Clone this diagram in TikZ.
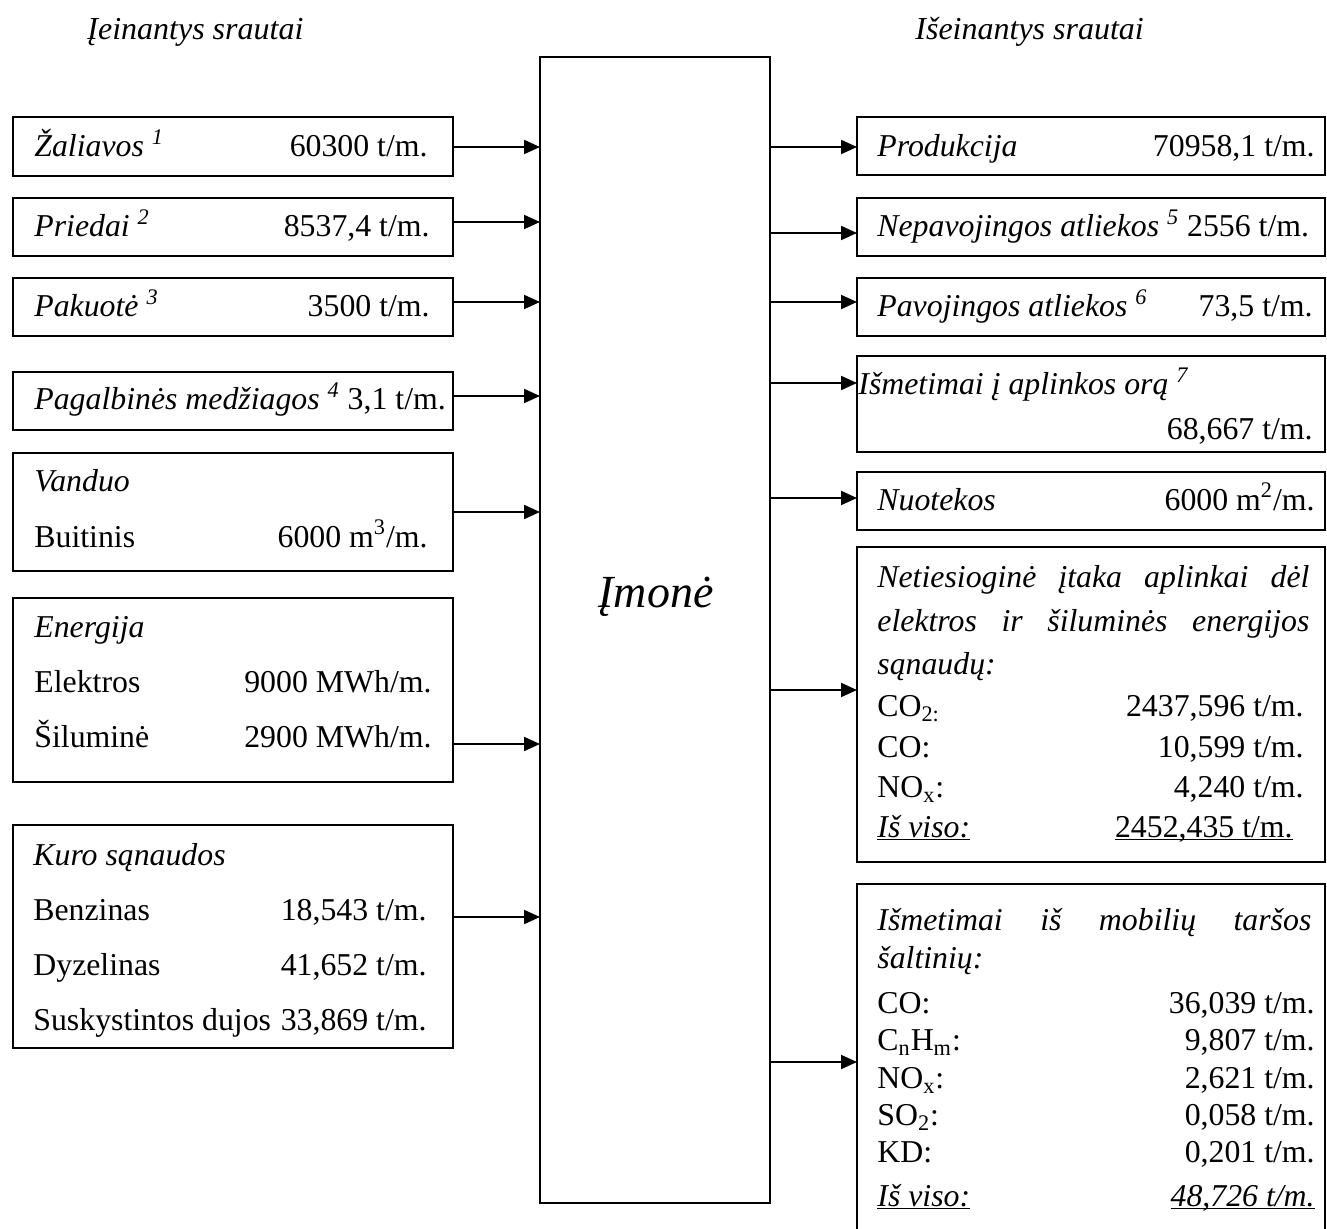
\documentclass[tikz,border=0pt]{standalone}
\usepackage{fontspec}
\setmainfont{Liberation Serif}
\usetikzlibrary{arrows.meta}
\newlength\px
\setlength\px{0.5pt}
\newcommand\ulin[1]{\underline{\smash{#1}}}
\begin{document}
\begin{tikzpicture}[x=0.5pt, y=-0.5pt,
  frame/.style={draw, line width=1pt, anchor=north west, inner sep=0pt, outer sep=0pt},
  flow/.style={line width=1pt, -{Triangle[length=8pt,width=7pt]}},
  txt/.style={inner sep=0pt, anchor=base west, font=\fontsize{15.9}{18}\selectfont},
  itxt/.style={txt, font=\fontsize{15.9}{18}\selectfont\itshape},
  num/.style={inner sep=0pt, anchor=base east, font=\fontsize{15.9}{18}\selectfont},
  head/.style={inner sep=0pt, anchor=base west, font=\fontsize{16}{19}\selectfont\itshape},
]
\useasboundingbox (0,0) rectangle (1327,1229);
\clip (0,0) rectangle (1327,1229);

% column headings
\node[head] (hin) at (87,40) {Įeinantys srautai};
\node[head] (hout) at (915,40) {Išeinantys srautai};

% the enterprise
\node[frame, minimum width=230\px, minimum height=1146\px] (imone) at (540,57) {};
\node[inner sep=0pt, anchor=base, font=\fontsize{23}{27}\selectfont\itshape] (imlbl) at (656,607) {Įmonė};

% incoming flows
\node[frame, minimum width=440\px, minimum height=59\px] (zal) at (13,117) {};
\node[frame, minimum width=440\px, minimum height=58\px] (pri) at (13,198) {};
\node[frame, minimum width=440\px, minimum height=58\px] (pak) at (13,278) {};
\node[frame, minimum width=440\px, minimum height=58\px] (pag) at (13,372) {};
\node[frame, minimum width=440\px, minimum height=118\px] (van) at (13,453) {};
\node[frame, minimum width=440\px, minimum height=184\px] (ene) at (13,598) {};
\node[frame, minimum width=440\px, minimum height=223\px] (kur) at (13,825) {};

\node[itxt] (zalt) at (34,157) {Žaliavos \textsuperscript{1}};
\node[num] (zalv) at (428,157) {60300 t/m.};
\node[itxt] (prit) at (34,237) {Priedai \textsuperscript{2}};
\node[num] (priv) at (430,237) {8537,4 t/m.};
\node[itxt] (pakt) at (34,317) {Pakuotė \textsuperscript{3}};
\node[num] (pakv) at (430,317) {3500 t/m.};
\node[txt] (pagt) at (34,410) {\itshape Pagalbinės medžiagos \textsuperscript{4}\upshape{} 3,1 t/m.};
\node[itxt] (vant) at (34,492) {Vanduo};
\node[txt] (buit) at (34,547) {Buitinis};
\node[num] (buiv) at (428,547) {6000 m\textsuperscript{3}/m.};
\node[itxt] (enet) at (34,637) {Energija};
\node[txt] (elet) at (34,692) {Elektros};
\node[num] (elev) at (432,692) {9000 MWh/m.};
\node[txt] (silt) at (34,747) {Šiluminė};
\node[num] (silv) at (432,747) {2900 MWh/m.};
\node[itxt] (kurt) at (33,865) {Kuro sąnaudos};
\node[txt] (bent) at (33,920) {Benzinas};
\node[num] (benv) at (427,920) {18,543 t/m.};
\node[txt] (dyzt) at (33,975) {Dyzelinas};
\node[num] (dyzv) at (427,975) {41,652 t/m.};
\node[txt] (sust) at (33,1030) {Suskystintos dujos};
\node[num] (susv) at (427,1030) {33,869 t/m.};

% outgoing flows
\node[frame, minimum width=468\px, minimum height=58\px] (pro) at (857,117) {};
\node[frame, minimum width=468\px, minimum height=58\px] (nep) at (857,198) {};
\node[frame, minimum width=468\px, minimum height=58\px] (pav) at (857,278) {};
\node[frame, minimum width=468\px, minimum height=96\px] (orr) at (857,356) {};
\node[frame, minimum width=468\px, minimum height=58\px] (nuo) at (857,472) {};
\node[frame, minimum width=468\px, minimum height=315\px] (net) at (857,547) {};
\node[frame, minimum width=468\px, minimum height=360\px] (mob) at (857,884) {};

\node[itxt] (prot) at (877,157) {Produkcija};
\node[num] (prov) at (1315,157) {70958,1 t/m.};
\node[txt] (nept) at (877,237) {\itshape Nepavojingos atliekos \textsuperscript{5}\upshape{} 2556 t/m.};
\node[itxt] (pavt) at (877,317) {Pavojingos atliekos \textsuperscript{6}};
\node[num] (pavv) at (1313,317) {73,5 t/m.};
\node[itxt] (orrt) at (858,395) {Išmetimai į aplinkos orą \textsuperscript{7}};
\node[num] (orrv) at (1313,440) {68,667 t/m.};
\node[itxt] (nuot) at (877,510) {Nuotekos};
\node[num] (nuov) at (1315,510) {6000 m\textsuperscript{2}/m.};

\node[itxt] (net1) at (877,588) {\hbox to 432\px{Netiesioginė\hfill įtaka\hfill aplinkai\hfill dėl}};
\node[itxt] (net2) at (877,631) {\hbox to 432\px{elektros\hfill ir\hfill šiluminės\hfill energijos}};
\node[itxt] (net3) at (877,674) {sąnaudų:};
\node[txt] (co2t) at (877,716) {CO\textsubscript{2:}};
\node[num] (co2v) at (1304,716) {2437,596 t/m.};
\node[txt] (cot) at (877,757) {CO:};
\node[num] (cov) at (1304,757) {10,599 t/m.};
\node[txt] (noxt) at (877,797) {NO\textsubscript{x}:};
\node[num] (noxv) at (1304,797) {4,240 t/m.};
\node[itxt] (nets) at (877,837) {\ulin{Iš viso:}};
\node[num] (netv) at (1293,837) {\ulin{2452,435 t/m.}};

\node[itxt] (mob1) at (877,930) {\hbox to 434\px{Išmetimai\hfill iš\hfill mobilių\hfill taršos}};
\node[itxt] (mob2) at (877,968) {šaltinių:};
\node[txt] (mcot) at (877,1013) {CO:};
\node[num] (mcov) at (1315,1013) {36,039 t/m.};
\node[txt] (mcht) at (877,1050) {C\textsubscript{n}H\textsubscript{m}:};
\node[num] (mchv) at (1315,1050) {9,807 t/m.};
\node[txt] (mnot) at (877,1088) {NO\textsubscript{x}:};
\node[num] (mnov) at (1315,1088) {2,621 t/m.};
\node[txt] (msot) at (877,1125) {SO\textsubscript{2}:};
\node[num] (msov) at (1315,1125) {0,058 t/m.};
\node[txt] (mkdt) at (877,1162) {KD:};
\node[num] (mkdv) at (1315,1162) {0,201 t/m.};
\node[itxt] (mobs) at (877,1206) {\ulin{Iš viso:}};
\node[num, font=\fontsize{15.9}{18}\selectfont\itshape] (mobv) at (1315,1206) {\ulin{48,726 t/m.}};

% arrow heights
\coordinate (i1) at (0,147);
\coordinate (i2) at (0,222);
\coordinate (i3) at (0,302);
\coordinate (i4) at (0,396);
\coordinate (i5) at (0,512);
\coordinate (i6) at (0,744);
\coordinate (i7) at (0,917);
\coordinate (o1) at (0,147);
\coordinate (o2) at (0,233);
\coordinate (o3) at (0,302);
\coordinate (o4) at (0,383);
\coordinate (o5) at (0,498);
\coordinate (o6) at (0,690);
\coordinate (o7) at (0,1062);

\draw[flow] (zal.east |- i1) -- (imone.west |- i1);
\draw[flow] (pri.east |- i2) -- (imone.west |- i2);
\draw[flow] (pak.east |- i3) -- (imone.west |- i3);
\draw[flow] (pag.east |- i4) -- (imone.west |- i4);
\draw[flow] (van.east |- i5) -- (imone.west |- i5);
\draw[flow] (ene.east |- i6) -- (imone.west |- i6);
\draw[flow] (kur.east |- i7) -- (imone.west |- i7);

\draw[flow] (imone.east |- o1) -- (pro.west |- o1);
\draw[flow] (imone.east |- o2) -- (nep.west |- o2);
\draw[flow] (imone.east |- o3) -- (pav.west |- o3);
\draw[flow] (imone.east |- o4) -- (orr.west |- o4);
\draw[flow] (imone.east |- o5) -- (nuo.west |- o5);
\draw[flow] (imone.east |- o6) -- (net.west |- o6);
\draw[flow] (imone.east |- o7) -- (mob.west |- o7);
\end{tikzpicture}
\end{document}
